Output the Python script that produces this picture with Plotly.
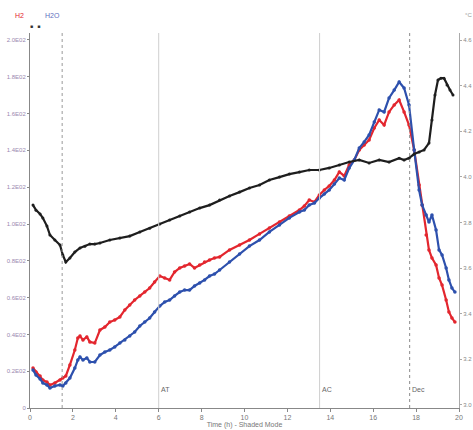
import plotly.graph_objects as go

# ---- data ----
time_hv = [0.14, 0.28, 0.47, 0.60, 0.79, 0.93, 1.16, 1.40, 1.53, 1.67, 1.86, 2.09, 2.23, 2.33, 2.47, 2.65,
           2.79, 3.02, 3.26, 3.49, 3.72, 3.95, 4.19, 4.42, 4.65, 4.88, 5.12, 5.35, 5.58, 5.81, 6.05, 6.28,
           6.51, 6.74, 6.98, 7.21, 7.44, 7.67, 7.91, 8.14, 8.37, 8.60, 8.84, 9.30, 9.77, 10.23, 10.70, 11.16,
           11.63, 12.09, 12.56, 12.79, 13.02, 13.26, 13.49, 13.72, 13.95, 14.19, 14.42, 14.65, 14.88, 15.12,
           15.35, 15.58, 15.81, 16.05, 16.28, 16.51, 16.74, 16.98, 17.21, 17.44, 17.67, 17.91, 18.14, 18.28,
           18.47, 18.60, 18.74, 18.93, 19.07, 19.21, 19.40, 19.53, 19.67, 19.81]

h2 = [0.217, 0.196, 0.174, 0.152, 0.141, 0.125, 0.136, 0.152, 0.163, 0.174, 0.234, 0.315, 0.380, 0.391, 0.370, 0.386,
      0.359, 0.353, 0.424, 0.440, 0.467, 0.478, 0.495, 0.533, 0.560, 0.587, 0.609, 0.630, 0.652, 0.685, 0.717, 0.707,
      0.696, 0.739, 0.761, 0.772, 0.783, 0.761, 0.777, 0.793, 0.804, 0.815, 0.821, 0.859, 0.886, 0.913, 0.946, 0.978,
      1.011, 1.044, 1.076, 1.098, 1.130, 1.120, 1.158, 1.185, 1.207, 1.239, 1.283, 1.261, 1.321, 1.348,
      1.402, 1.429, 1.457, 1.522, 1.565, 1.538, 1.609, 1.647, 1.674, 1.609, 1.538, 1.402, 1.212, 1.103,
      0.940, 0.859, 0.815, 0.777, 0.707, 0.668, 0.587, 0.522, 0.489, 0.467]

h2o = [0.207, 0.179, 0.158, 0.136, 0.125, 0.109, 0.120, 0.125, 0.120, 0.136, 0.163, 0.217, 0.261, 0.277, 0.261, 0.272,
       0.250, 0.250, 0.288, 0.304, 0.315, 0.332, 0.353, 0.370, 0.391, 0.413, 0.446, 0.467, 0.489, 0.522, 0.554, 0.576,
       0.587, 0.609, 0.630, 0.641, 0.641, 0.663, 0.679, 0.696, 0.717, 0.728, 0.750, 0.793, 0.837, 0.880, 0.913, 0.957,
       0.995, 1.033, 1.065, 1.076, 1.103, 1.114, 1.141, 1.163, 1.185, 1.217, 1.250, 1.239, 1.304, 1.348,
       1.413, 1.446, 1.484, 1.554, 1.620, 1.609, 1.685, 1.728, 1.772, 1.739, 1.647, 1.402, 1.185, 1.103,
       1.049, 1.011, 1.049, 0.967, 0.859, 0.832, 0.761, 0.696, 0.652, 0.630]

time_t = [0.14, 0.28, 0.47, 0.60, 0.79, 0.93, 1.16, 1.40, 1.53, 1.67, 1.86, 2.09, 2.33, 2.56, 2.79, 3.02, 3.26,
          3.72, 4.19, 4.65, 5.12, 5.58, 6.05, 6.51, 6.98, 7.44, 7.91, 8.37, 8.84, 9.30, 9.77, 10.23, 10.70,
          11.16, 11.63, 12.09, 12.56, 13.02, 13.49, 13.95, 14.42, 14.88, 15.35, 15.81, 16.28, 16.74, 17.21,
          17.44, 17.67, 17.91, 18.14, 18.37, 18.60, 18.74, 18.88, 19.02, 19.16, 19.30, 19.44, 19.58, 19.72]

temp = [3.876, 3.854, 3.837, 3.819, 3.784, 3.745, 3.723, 3.701, 3.657, 3.626, 3.644, 3.670, 3.688, 3.696, 3.705,
        3.705, 3.710, 3.723, 3.732, 3.740, 3.758, 3.775, 3.793, 3.811, 3.828, 3.846, 3.863, 3.876, 3.898, 3.916,
        3.933, 3.951, 3.964, 3.986, 3.999, 4.012, 4.021, 4.030, 4.030, 4.039, 4.052, 4.065, 4.074, 4.061, 4.074,
        4.065, 4.082, 4.074, 4.082, 4.100, 4.109, 4.118, 4.148, 4.249, 4.359, 4.425, 4.433, 4.433, 4.403, 4.381,
        4.359]

left_ticks = [0, 0.2, 0.4, 0.6, 0.8, 1.0, 1.2, 1.4, 1.6, 1.8, 2.0]
left_labels = ["0", "0.2E02", "0.4E02", "0.6E02", "0.8E02", "1.0E02", "1.2E02", "1.4E02", "1.6E02", "1.8E02", "2.0E02"]
right_ticks = [3.0, 3.2, 3.4, 3.6, 3.8, 4.0, 4.2, 4.4, 4.6]
x_ticks = [0, 2, 4, 6, 8, 10, 12, 14, 16, 18, 20]

events = [("AT", 6.0), ("AC", 13.5), ("Dec", 17.7)]

FONT = "Liberation Sans, Arial, sans-serif"

fig = go.Figure()
fig.add_trace(go.Scatter(x=time_hv, y=h2, mode="lines+markers", name="H2",
                         line=dict(color="#e3262e", width=2.2),
                         marker=dict(color="#e3262e", size=3.5)))
fig.add_trace(go.Scatter(x=time_hv, y=h2o, mode="lines+markers", name="H2O",
                         line=dict(color="#2d50ad", width=2.2),
                         marker=dict(color="#2d50ad", size=3.5)))
fig.add_trace(go.Scatter(x=time_t, y=temp, mode="lines+markers", name="T", yaxis="y2",
                         line=dict(color="#1e1e1e", width=2.2),
                         marker=dict(color="#1e1e1e", size=3)))

shapes = [dict(type="line", xref="x", yref="paper", x0=1.5, x1=1.5, y0=0, y1=1,
               line=dict(color="#9a9a9a", width=1, dash="dot"))]
for lab, t in events:
    dash = "dot" if lab == "Dec" else "solid"
    col = "#8a8a8a" if lab == "Dec" else "#cfcfcf"
    shapes.append(dict(type="line", xref="x", yref="paper", x0=t, x1=t, y0=0, y1=1,
                       line=dict(color=col, width=1, dash=dash)))

annotations = []
for lab, t in events:
    annotations.append(dict(x=t, xref="x", y=0.035, yref="paper", text=lab, showarrow=False,
                            xanchor="left", yanchor="bottom", font=dict(size=7, color="#666", family=FONT)))
annotations += [
    dict(x=-0.04, xref="paper", y=1.06, yref="paper", text="H2", showarrow=False,
         font=dict(size=7, color="#e3262e", family=FONT)),
    dict(x=0.03, xref="paper", y=1.06, yref="paper", text="H2O", showarrow=False,
         font=dict(size=7, color="#6070c0", family=FONT)),
    dict(x=-0.005, xref="paper", y=1.033, yref="paper", text="■   ■", showarrow=False,
         font=dict(size=5, color="#333", family=FONT)),
    dict(x=1.01, xref="paper", y=1.06, yref="paper", text="°C", showarrow=False, xanchor="left",
         font=dict(size=6, color="#999", family=FONT)),
]

fig.update_layout(
    width=473, height=430,
    margin=dict(l=30, r=14, t=33, b=22),
    paper_bgcolor="white", plot_bgcolor="white",
    showlegend=False,
    font=dict(family=FONT, size=7, color="#777"),
    xaxis=dict(range=[0, 20], tickvals=x_ticks, showgrid=False, zeroline=False, automargin=False,
               showline=True, linecolor="#888", linewidth=1, ticks="outside", ticklen=3,
               tickcolor="#888", tickfont=dict(size=7, color="#777"),
               title=dict(text="Time (h) - Shaded Mode", font=dict(size=7, color="#777"), standoff=0)),
    yaxis=dict(range=[0, 2.038], tickvals=left_ticks, ticktext=left_labels, showgrid=False,
               automargin=False, zeroline=False, showline=True, linecolor="#888", linewidth=1,
               ticks="outside", ticklen=2, tickcolor="#888", tickfont=dict(size=6, color="#9a88b0")),
    yaxis2=dict(range=[2.986, 4.631], tickvals=right_ticks, tickformat=".1f", overlaying="y",
                side="right", automargin=False, showgrid=False, zeroline=False, showline=True,
                linecolor="#aaa", linewidth=1, ticks="outside", ticklen=2, tickcolor="#aaa",
                tickfont=dict(size=6, color="#888")),
    shapes=shapes,
    annotations=annotations,
)

fig.write_html("out.html", config={"displayModeBar": False},
               post_script="document.body.style.margin='0px';document.body.style.overflow='hidden';")
